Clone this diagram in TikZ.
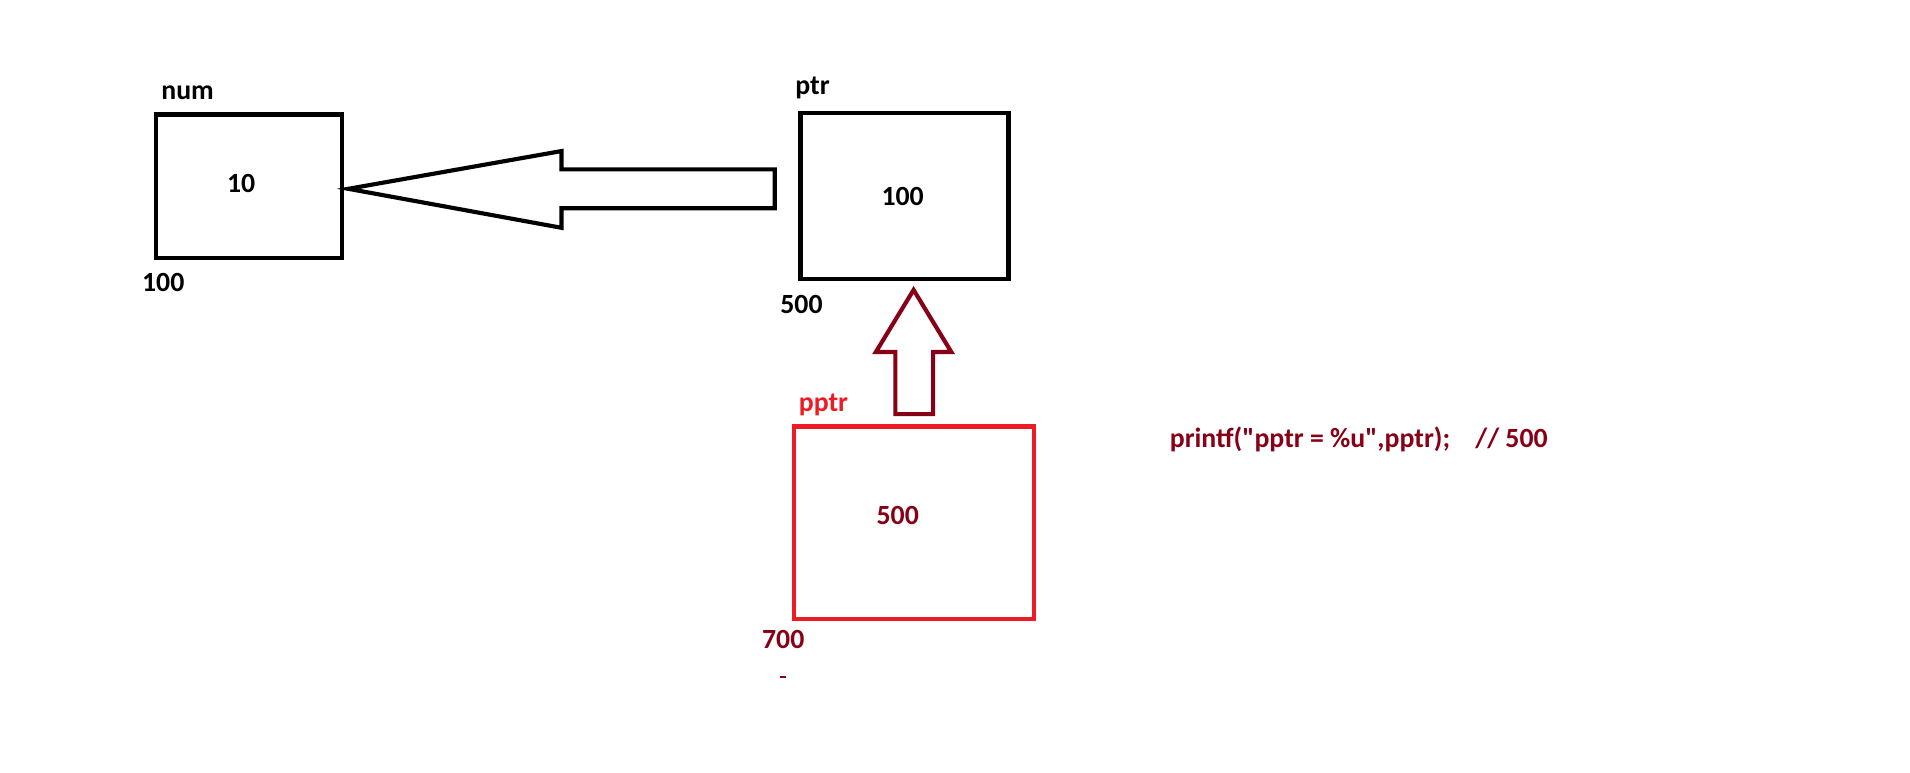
\documentclass[tikz,border=0pt]{standalone}
\usepackage{fontspec}
\setmainfont{Carlito}
\newfontfamily\codefont{Carlito}[Ligatures=TeXOff]
\definecolor{dred}{HTML}{880015}
\definecolor{pred}{HTML}{ED1C24}
\begin{document}
\begin{tikzpicture}[x=0.5pt,y=-0.5pt,
  box/.style={draw, line width=1.8pt, rectangle, inner sep=0pt},
  lbl/.style={font=\bfseries\fontsize{11.4}{13}\selectfont, inner sep=0pt},
  hollow/.style={draw, line width=1.7pt, line join=miter}]
\useasboundingbox (0,0) rectangle (1568,634);
% boxes
\node[box, minimum width=76.5pt, minimum height=59pt] (num) at (204.5,153) {};
\node[box, minimum width=85.5pt, minimum height=68pt] (ptr) at (742.5,161) {};
\node[box, draw=pred, minimum width=98.5pt, minimum height=79pt] (pptr) at (750.5,429) {};
% texts
\node[lbl] (numname) at (154,76) {num};
\node[lbl] (numval) at (198,151) {10};
\node[lbl] (numaddr) at (134,232) {100};
\node[lbl] (ptrname) at (667,72) {ptr};
\node[lbl] (ptrval) at (741,161) {100};
\node[lbl] (ptraddr) at (658,250) {500};
\node[lbl, text=pred] (pptrname) at (676,332) {pptr};
\node[lbl, text=dred] (pptrval) at (737,423) {500};
\node[lbl, text=dred] (pptraddr) at (643,525) {700};
\node[lbl, text=dred, anchor=west, font=\codefont\bfseries\fontsize{11.4}{13}\selectfont] (code) at (960,361) {printf("pptr = \%u",pptr);\ \ \ \ // 500};
\coordinate (dash) at (643,556);
\draw[dred, line width=0.8pt] ([xshift=-1.2pt]dash) -- ([xshift=1.2pt]dash);
% big hollow arrow ptr -> num
\draw[hollow] (286,155) -- (461,124) -- (461,139) -- (636,139) -- (636,171) -- (461,171) -- (461,187) -- cycle;
% dark red hollow arrow pptr -> ptr
\draw[hollow, dred] (750,238) -- (781,289) -- (766,289) -- (766,340) -- (735,340) -- (735,289) -- (719,289) -- cycle;
\end{tikzpicture}
\end{document}
